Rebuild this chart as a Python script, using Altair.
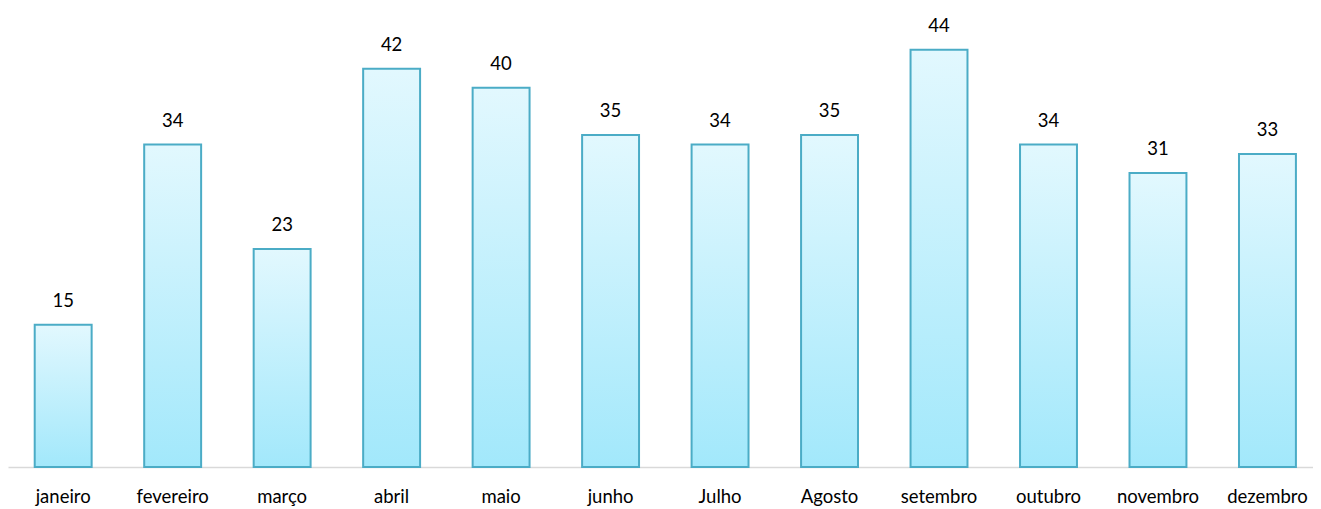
import altair as alt
import pandas as pd

months = ["janeiro", "fevereiro", "março", "abril", "maio", "junho", "Julho",
          "Agosto", "setembro", "outubro", "novembro", "dezembro"]
values = [15, 34, 23, 42, 40, 35, 34, 35, 44, 34, 31, 33]

df = pd.DataFrame({"mes": months, "valor": values})

FONT = "Lato"

x = alt.X("mes:N", sort=months, title=None,
          scale=alt.Scale(paddingInner=0.48, paddingOuter=0.2, align=0.61),
          axis=alt.Axis(labelAngle=0, ticks=False, grid=False, domainColor="#d9d9d9",
                        domainWidth=1.5, labelFont=FONT, labelFontSize=18.5,
                        labelColor="#000000", labelPadding=20))
y = alt.Y("valor:Q", title=None, scale=alt.Scale(domain=[0, 48.4], nice=False),
          axis=None)

bars = alt.Chart(df).mark_bar(
    color=alt.Gradient(gradient="linear", x1=0, x2=0, y1=0, y2=1,
                       stops=[alt.GradientStop(offset=0, color="#e2f8fe"),
                              alt.GradientStop(offset=1, color="#a2e8fb")]),
    stroke="#4bacc6", strokeWidth=2
).encode(x=x, y=y)

labels = alt.Chart(df).mark_text(
    baseline="alphabetic", dy=-18, font=FONT, fontSize=18.5, color="#000000"
).encode(x=x, y=y, text="valor:Q")

chart = (bars + labels).properties(
    width=1305, height=459, background="#ffffff",
    padding={"left": 0, "right": 0, "top": 0, "bottom": 4}
).configure_view(stroke=None, strokeWidth=0)

chart.save("out.html", embed_options={"renderer": "svg", "actions": False})
